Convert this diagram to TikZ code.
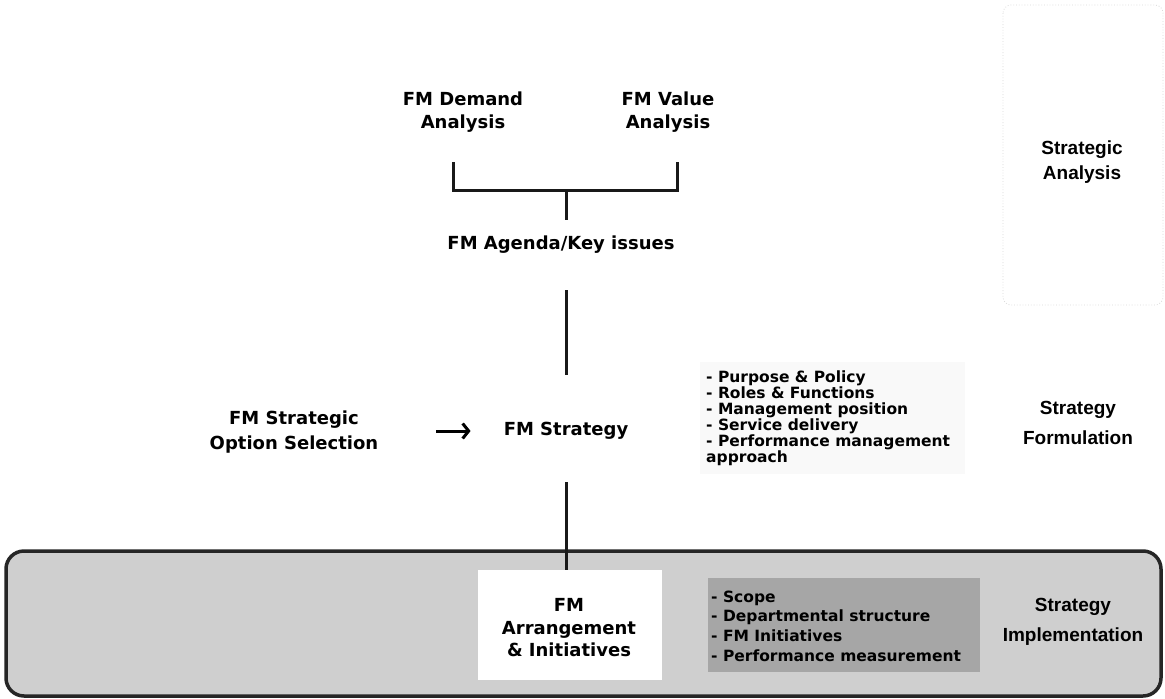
\documentclass[tikz,border=0pt]{standalone}
\usepackage{fontspec}
\setmainfont{DejaVu Sans}
\newfontfamily\arialfam{Liberation Sans}
\usetikzlibrary{arrows.meta}
\tikzset{
  main/.style={font=\bfseries\fontsize{18}{23}\selectfont, align=center, inner sep=0pt},
  side/.style={font=\arialfam\bfseries\fontsize{19}{30}\selectfont, align=center, inner sep=0pt},
  listtxt/.style={font=\bfseries\fontsize{15.5}{16}\selectfont, align=left, inner sep=0pt, anchor=west},
  link/.style={line width=3pt, draw=black!90},
  implbox/.style={line width=3.5pt, rounded corners=18pt, fill=gray!38, draw=black!85},
}
\begin{document}
\begin{tikzpicture}[x=1pt,y=-1pt]
\useasboundingbox[fill=white] (0,0) rectangle (1165,699);
% faint strategic analysis frame
\draw[gray!30, dotted, line width=0.8pt, rounded corners=8pt] (1003,5) rectangle (1163,305);
% faint background of formulation list
\fill[gray!5] (700,362) rectangle (965,474);
% implementation band
\draw[implbox] (6,551) rectangle (1161,696);

% top analysis
\node[main] (demand) at (463,112) {FM Demand\\Analysis};
\node[main] (value) at (668,112) {FM Value\\Analysis};
\coordinate (bl) at (453,162);
\coordinate (br) at (677,162);
\coordinate (bm) at (566,190);
\coordinate (bs) at (566,220);
\draw[link] (bl) |- (bm) -| (br);
\draw[link] (bm) -- (bs);
\node[main] (agenda) at (561,245) {FM Agenda/Key issues};

% strategy formulation
\node[main] (strategy) at (566,431) {FM Strategy};
\node[main, font=\bfseries\fontsize{18}{25}\selectfont] (option) at (294,432) {FM Strategic\\Option Selection};
\draw[link] ([yshift=-45pt]strategy.center |- agenda.center) -- ([yshift=56pt]strategy.center);
\draw[line width=3pt, -{Straight Barb[length=6pt,width=15pt,line width=3pt]}, shorten <=58pt, shorten >=33pt] (option.east |- strategy.center) -- (strategy.west);
\node[listtxt] (formlist) at (706,418) {- Purpose \& Policy\\- Roles \& Functions\\- Management position\\- Service delivery\\- Performance management\\approach};

% implementation
\node[fill=white, inner sep=0pt, minimum width=184pt, minimum height=110pt] (arrbox) at (570,625) {};
\node[main, font=\bfseries\fontsize{18}{22.5}\selectfont] (arr) at (569,628) {FM\\Arrangement\\\& Initiatives};
\draw[link] ([yshift=-51pt]strategy.center) -- (strategy.center |- arrbox.north);
\node[fill=gray!70, inner sep=0pt, minimum width=272pt, minimum height=94pt] (darkbox) at (844,625) {};
\node[listtxt, font=\bfseries\fontsize{15.5}{19.7}\selectfont] (impllist) at (711,626) {- Scope\\- Departmental structure\\- FM Initiatives\\- Performance measurement};

% side labels
\node[side, font=\arialfam\bfseries\fontsize{19}{25}\selectfont] (sa) at (1082,162) {Strategic\\Analysis};
\node[side] (sf) at (1078,423) {Strategy\\Formulation};
\node[side] (si) at (1073,622) {Strategy\\Implementation};
\end{tikzpicture}
\end{document}
